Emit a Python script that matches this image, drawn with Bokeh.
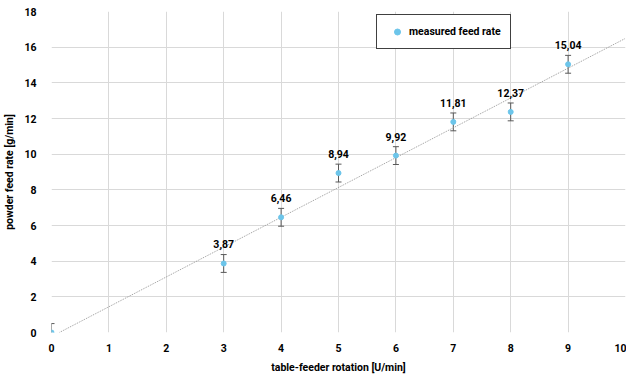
import numpy as np
from bokeh.plotting import figure
from bokeh.models import ColumnDataSource, Whisker, TeeHead, Legend, LegendItem, FixedTicker, LabelSet
from bokeh.core.properties import value
from bokeh.embed import file_html
from bokeh.resources import INLINE

rotation = [0, 3, 4, 5, 6, 7, 8, 9]
feed_rate = [0.0, 3.87, 6.46, 8.94, 9.92, 11.81, 12.37, 15.04]
feed_err = [0.5, 0.5, 0.5, 0.5, 0.5, 0.5, 0.5, 0.5]
label_text = ["", "3,87", "6,46", "8,94", "9,92", "11,81", "12,37", "15,04"]
x_ticks = [0, 1, 2, 3, 4, 5, 6, 7, 8, 9, 10]
y_ticks = [0, 2, 4, 6, 8, 10, 12, 14, 16, 18]

FONT = "Roboto"

lower = [v - e for v, e in zip(feed_rate, feed_err)]
upper = [v + e for v, e in zip(feed_rate, feed_err)]
src = ColumnDataSource(dict(x=rotation, y=feed_rate, lo=lower, hi=upper, t=label_text))

slope, intercept = np.polyfit(rotation, feed_rate, 1)
x0 = -intercept / slope
trend_x = [x0, 10]
trend_y = [slope * xx + intercept for xx in trend_x]

p = figure(width=626, height=376, x_range=(0, 10), y_range=(0, 18),
           output_backend="svg", toolbar_location=None,
           min_border_left=50, min_border_right=1, min_border_top=11, min_border_bottom=43)
p.outline_line_color = None
p.background_fill_color = "white"
p.border_fill_color = "white"

for ax in (p.xaxis[0], p.yaxis[0]):
    ax.axis_line_color = None
    ax.major_tick_line_color = None
    ax.minor_tick_line_color = None
    ax.major_tick_out = 0
    ax.major_tick_in = 0
    ax.major_label_text_font = FONT
    ax.major_label_text_font_style = "bold"
    ax.major_label_text_font_size = "10.5px"
    ax.major_label_text_color = "black"
    ax.axis_label_text_font = FONT
    ax.axis_label_text_font_style = "bold"
    ax.axis_label_text_font_size = "10.5px"
    ax.axis_label_text_color = "black"

p.xaxis.ticker = FixedTicker(ticks=x_ticks)
p.yaxis.ticker = FixedTicker(ticks=y_ticks)
p.xaxis.axis_label = "table-feeder rotation [U/min]"
p.yaxis.axis_label = "powder feed rate [g/min]"
p.xaxis.major_label_standoff = 11
p.xaxis.axis_label_standoff = 6
p.yaxis.major_label_standoff = 15
p.yaxis.axis_label_standoff = 5

p.xgrid.grid_line_color = "#d9d9d9"
p.ygrid.grid_line_color = "#d9d9d9"

p.line(trend_x, trend_y, line_color="#9a9a9a", line_width=1, line_dash="1 1")

w = Whisker(source=src, base="x", lower="lo", upper="hi", line_color="#595959", line_width=1,
            upper_head=TeeHead(size=6, line_color="#595959", line_width=1),
            lower_head=TeeHead(size=6, line_color="#595959", line_width=1))
p.add_layout(w)

r = p.scatter("x", "y", source=src, size=5, fill_color="#6cc5ea", line_color="#6cc5ea")

labels = LabelSet(x="x", y="y", text="t", source=src, text_align="center", text_baseline="middle",
                  y_offset=19, text_font=value(FONT), text_font_style="bold", text_font_size="10.5px",
                  text_color="black")
p.add_layout(labels)

legend = Legend(items=[LegendItem(label="measured feed rate", renderers=[r])],
                location=(325, 283), padding=9, label_height=15, glyph_height=15, glyph_width=22,
                label_standoff=1, border_line_color="#404040", border_line_width=1.5,
                border_line_alpha=1.0,
                label_text_font=FONT, label_text_font_style="bold", label_text_font_size="10.5px",
                label_text_color="black", margin=0, background_fill_alpha=1)
p.add_layout(legend)

open("out.html", "w").write(file_html(p, INLINE))
